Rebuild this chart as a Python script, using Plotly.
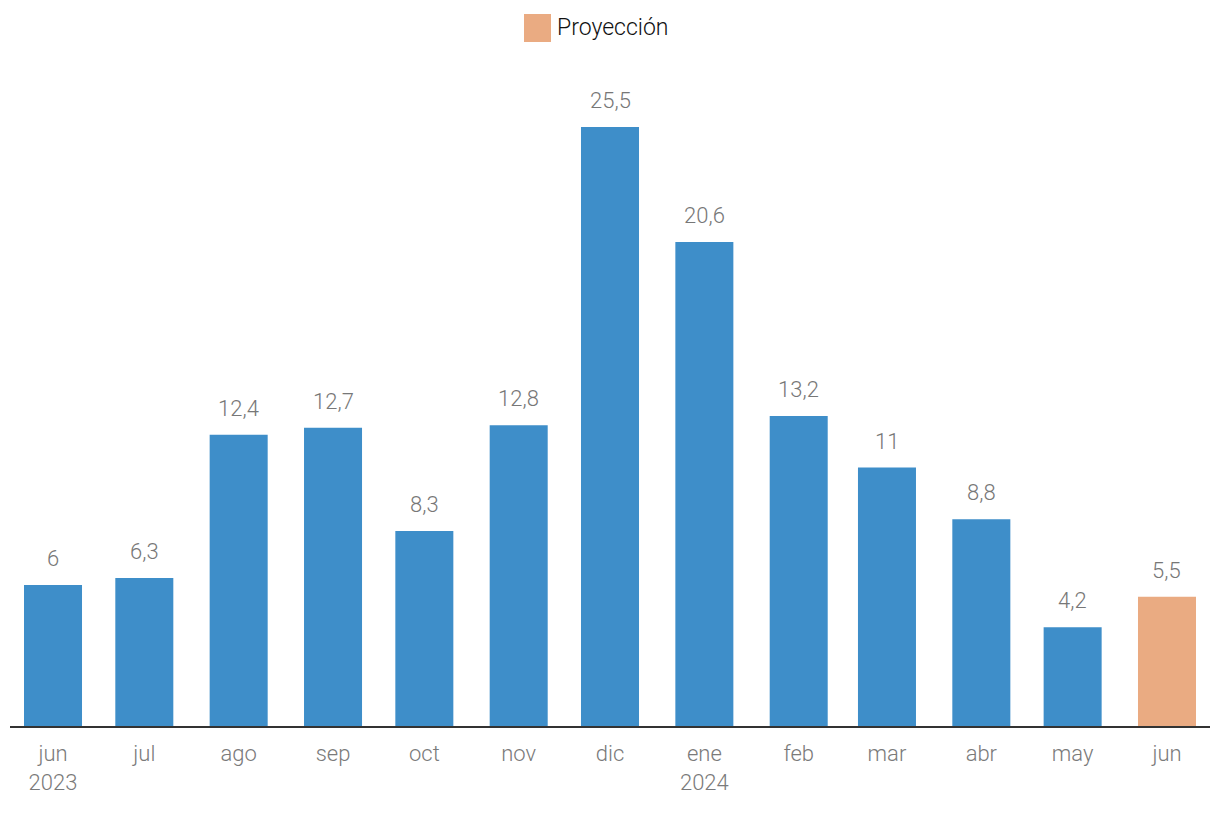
import plotly.graph_objects as go

months = ["2023-06-01", "2023-07-01", "2023-08-01", "2023-09-01", "2023-10-01",
          "2023-11-01", "2023-12-01", "2024-01-01", "2024-02-01", "2024-03-01",
          "2024-04-01", "2024-05-01", "2024-06-01"]
values = [6, 6.3, 12.4, 12.7, 8.3, 12.8, 25.5, 20.6, 13.2, 11, 8.8, 4.2, 5.5]
labels = ["6", "6,3", "12,4", "12,7", "8,3", "12,8", "25,5", "20,6", "13,2", "11", "8,8", "4,2", "5,5"]
tick_text = ["jun<br>2023", "jul", "ago", "sep", "oct", "nov", "dic", "ene<br>2024",
             "feb", "mar", "abr", "may", "jun"]
projection = [False] * 12 + [True]
legend_label = "Proyección"

BLUE = "#3e8ec9"
ORANGE = "#eaab82"
FONT = "Roboto"

colors = [ORANGE if p else BLUE for p in projection]

fig = go.Figure()
fig.add_trace(go.Bar(
    x=months, y=values, marker=dict(color=colors, line=dict(width=0)),
    width=19.06 * 86400000, showlegend=False, hoverinfo="skip",
))

for m, v, t in zip(months, values, labels):
    fig.add_annotation(x=m, y=v, text=t, showarrow=False, yanchor="bottom",
                       yshift=12, font=dict(family=FONT, size=22, color="#777777", weight=300))

# legend (drawn manually to match the large swatch)
fig.add_shape(type="rect", xref="paper", yref="paper", x0=(524 - 10) / 1200, x1=(551 - 10) / 1200,
              y0=(726 - 14) / 666, y1=(726 - 42) / 666, fillcolor=ORANGE, line=dict(width=0))
fig.add_annotation(xref="paper", yref="paper", x=(555 - 10) / 1200, y=(726 - 28) / 666,
                   xanchor="left", yanchor="middle", text=legend_label, showarrow=False,
                   font=dict(family=FONT, size=23, color="#111111", weight=300))

fig.update_layout(
    width=1220, height=820,
    margin=dict(l=10, r=10, t=60, b=94),
    paper_bgcolor="white", plot_bgcolor="white",
    showlegend=False,
    xaxis=dict(
        type="date",
        range=["2023-05-17 20:53", "2024-06-15 03:07"],
        tickvals=months, ticktext=tick_text,
        tickfont=dict(family=FONT, size=22, color="#7a7a7a", weight=300),
        showgrid=False, zeroline=False,
        showline=True, linecolor="#333333", linewidth=2,
        ticks="", ticklabelstandoff=7,
    ),
    yaxis=dict(range=[0, 666 / 23.49], visible=False, showgrid=False, zeroline=False),
)

fig.write_html("out.html")
